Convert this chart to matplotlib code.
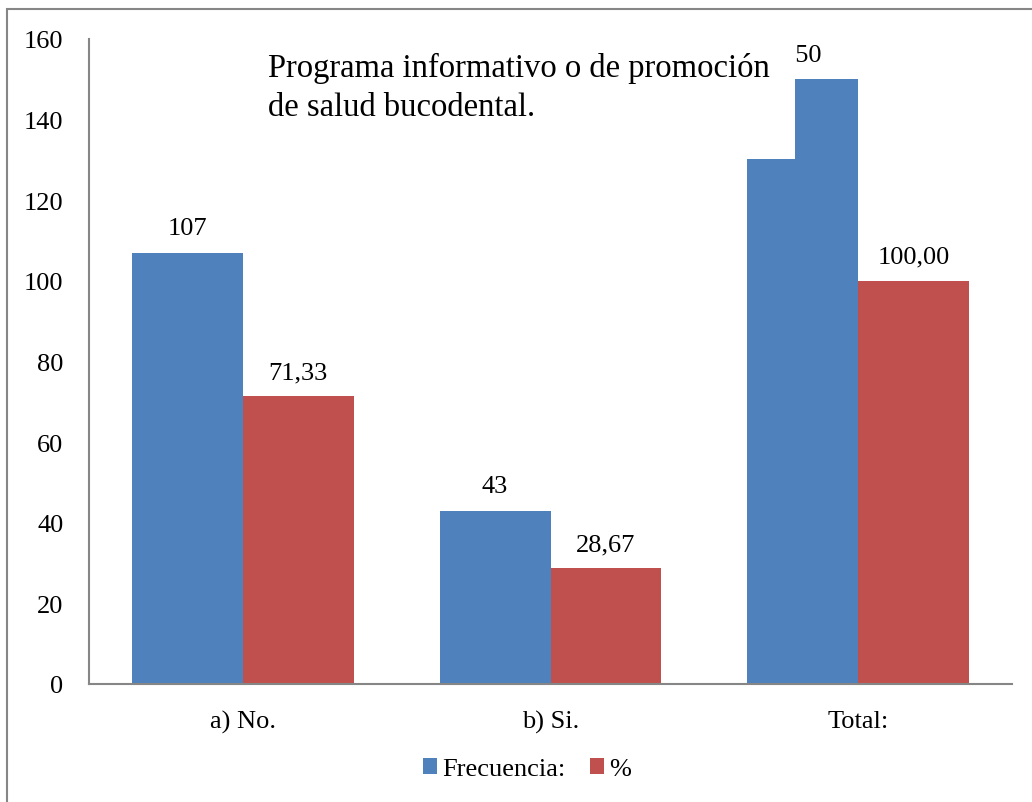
import matplotlib
matplotlib.use("Agg")
import matplotlib.pyplot as plt
from matplotlib.patches import Rectangle, Patch
import numpy as np

categories = ["a) No.", "b) Si.", "Total:"]
frecuencia = [107, 43, 150]
porcentaje = [71.33, 28.67, 100.00]
frec_labels = ["107", "43", "150"]
pct_labels = ["71,33", "28,67", "100,00"]
yticks = [0, 20, 40, 60, 80, 100, 120, 140, 160]
series_names = ["Frecuencia:", "%"]
title_lines = ["Programa informativo o de promoción", "de salud bucodental."]

BLUE = "#4F81BD"
RED = "#C0504D"
GRAY = "#868686"
FS = 19
plt.rcParams["font.family"] = ["Liberation Serif", "DejaVu Serif"]

W, H = 1032, 803
fig = plt.figure(figsize=(W / 100, H / 100), dpi=100)
ax = fig.add_axes([89 / W, 1 - 685 / H, (1012 - 89) / W, (685 - 40) / H])

x = np.arange(len(categories))
bw = 0.36
b1 = ax.bar(x - bw / 2, frecuencia, bw, color=BLUE, zorder=2)
b2 = ax.bar(x + bw / 2, porcentaje, bw, color=RED, zorder=2)

for rect, lab in zip(b1, frec_labels):
    ax.annotate(lab, (rect.get_x() + rect.get_width() / 2, rect.get_height()),
                xytext=(0, 9.5), textcoords="offset points", ha="center", va="bottom",
                fontsize=FS, zorder=1)
for rect, lab in zip(b2, pct_labels):
    ax.annotate(lab, (rect.get_x() + rect.get_width() / 2, rect.get_height()),
                xytext=(0, 9.5), textcoords="offset points", ha="center", va="bottom",
                fontsize=FS, zorder=1)

ax.set_xlim(-0.5, 2.5)
ax.set_ylim(0, 160)
ax.set_yticks(yticks)
ax.set_yticklabels([str(t) for t in yticks], fontsize=FS)
ax.set_xticks(x)
ax.set_xticklabels(categories, fontsize=FS)
ax.tick_params(axis="y", length=0, pad=18.5)
ax.tick_params(axis="x", length=0, pad=19)
for s in ["top", "right"]:
    ax.spines[s].set_visible(False)
for s in ["left", "bottom"]:
    ax.spines[s].set_color(GRAY)
    ax.spines[s].set_linewidth(1.5)

# white title box overlapping plot
box = Rectangle((255 / W, 1 - 160 / H), (795 - 255) / W, (160 - 30) / H,
                transform=fig.transFigure, facecolor="white", edgecolor="none", zorder=5)
fig.add_artist(box)
fig.text(268 / W, 1 - 77 / H, title_lines[0], fontsize=23.5, va="baseline", ha="left", zorder=6)
fig.text(268 / W, 1 - 116 / H, title_lines[1], fontsize=23.5, va="baseline", ha="left", zorder=6)

handles = [Patch(facecolor=BLUE), Patch(facecolor=RED)]
fig.legend(handles, series_names, loc="center", bbox_to_anchor=(527 / W, 1 - 770 / H),
           ncol=2, frameon=False, fontsize=FS, handlelength=0.54, handleheight=0.54,
           handletextpad=0.2, columnspacing=0.9, borderpad=0)

border = Rectangle((7 / W, -0.5), 2, 1.5 - 10 / H, transform=fig.transFigure,
                   fill=False, edgecolor=GRAY, linewidth=1.5)
fig.add_artist(border)

fig.savefig("out.png", dpi=100)
